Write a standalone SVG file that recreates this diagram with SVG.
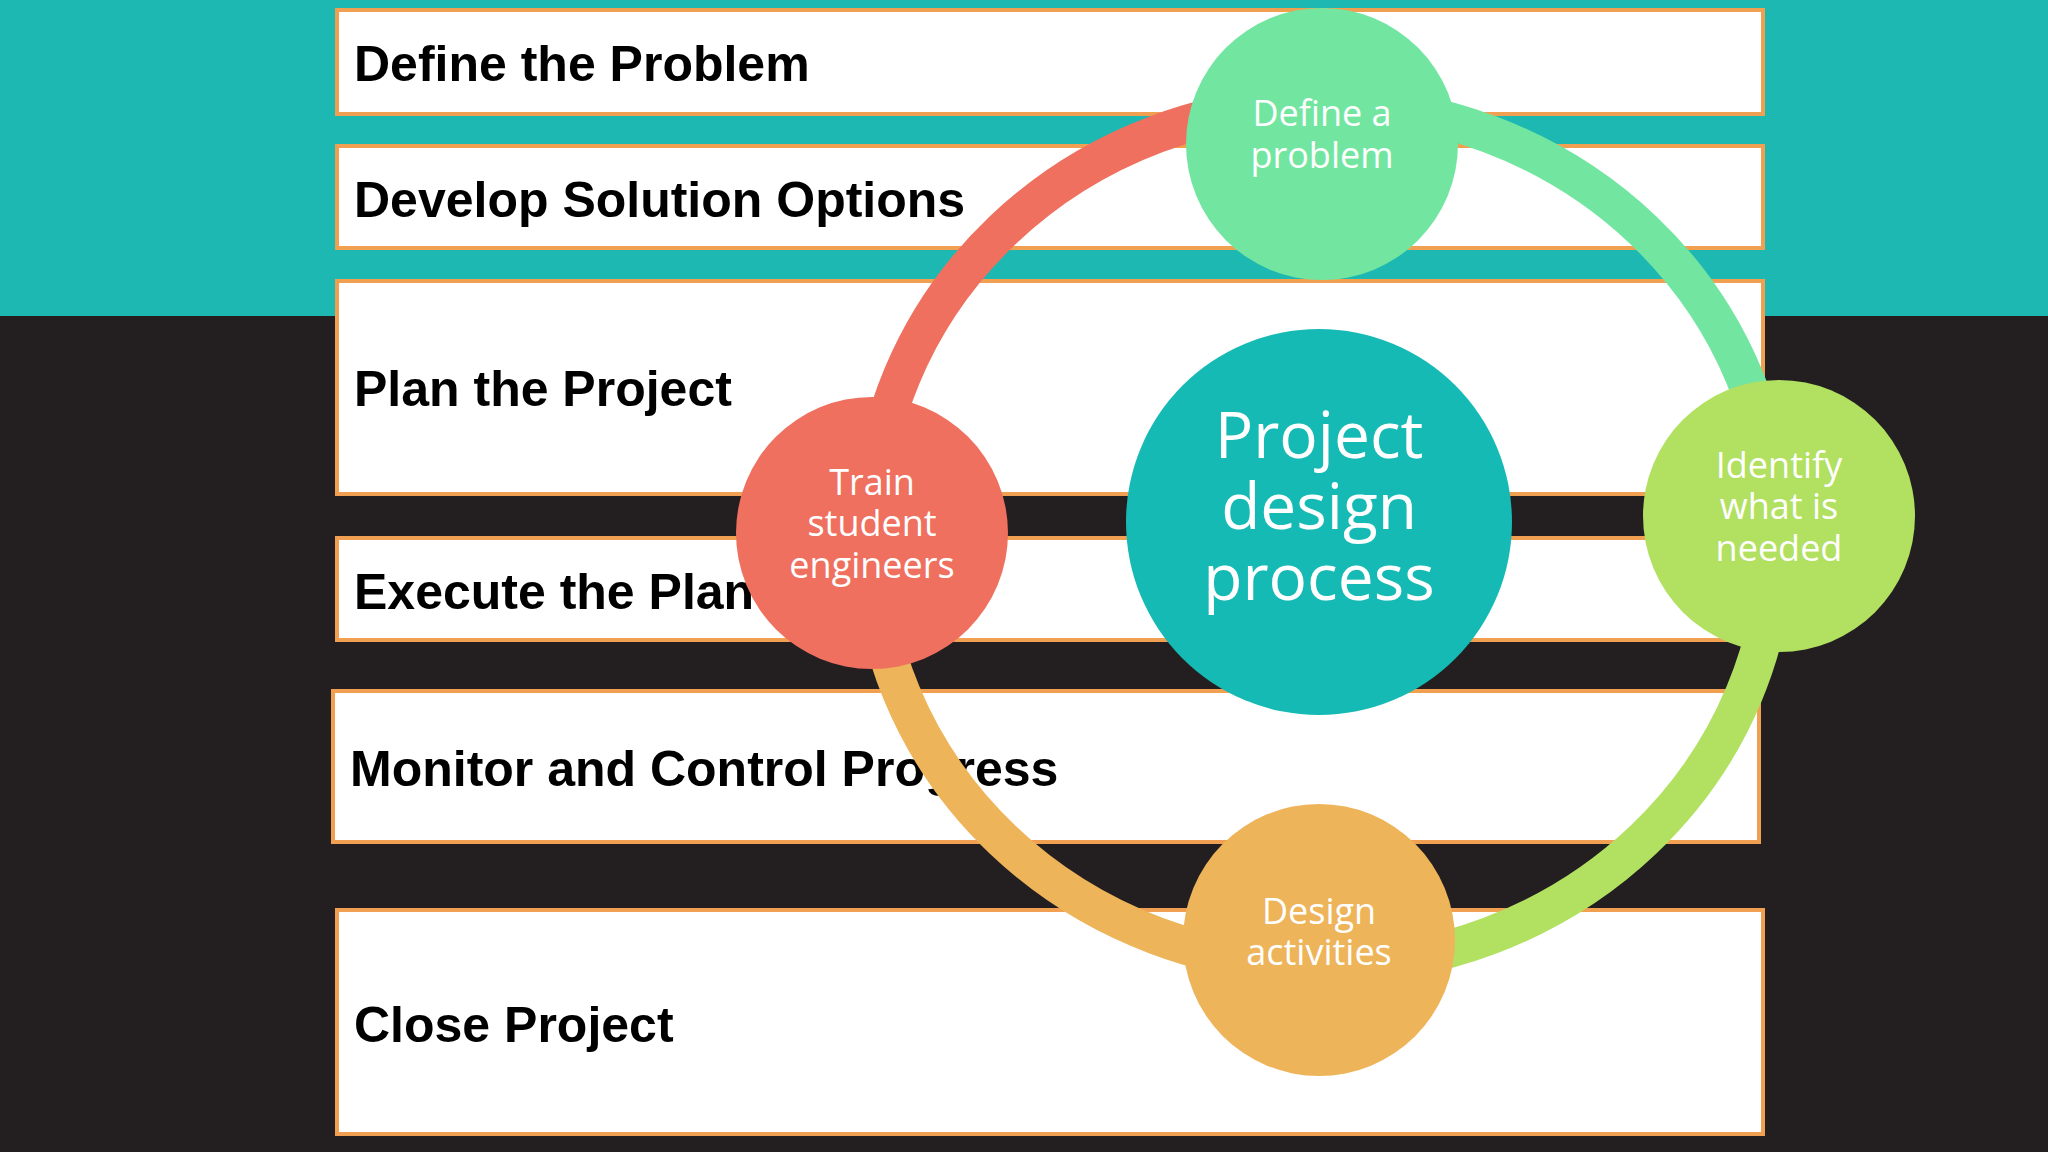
<svg xmlns="http://www.w3.org/2000/svg" width="2048" height="1152" viewBox="0 0 2048 1152">
<style>
.box{fill:#fff;stroke:#f0a050;stroke-width:4}
.lbl{font-family:"Liberation Sans",Arial,sans-serif;font-weight:bold;font-size:50px;fill:#000}
.ct{font-family:"Open Sans","Noto Sans",sans-serif;fill:#fff;text-anchor:middle;dominant-baseline:central;font-size:36px}
.big{font-size:64px}
.arc{fill:none;stroke-width:38}
</style>
<rect width="2048" height="1152" fill="#231f20"/>
<rect width="2048" height="316" fill="#1db8b2"/>
<g id="b1"><rect class="box" x="337" y="10" width="1426" height="104"/><text class="lbl" x="354" y="81">Define the Problem</text></g>
<g id="b2"><rect class="box" x="337" y="146" width="1426" height="102"/><text class="lbl" x="354" y="217">Develop Solution Options</text></g>
<g id="b3"><rect class="box" x="337" y="281" width="1426" height="213"/><text class="lbl" x="354" y="406">Plan the Project</text></g>
<g id="b4"><rect class="box" x="337" y="538" width="1426" height="102"/><text class="lbl" x="354" y="609">Execute the Plan</text></g>
<g id="b5"><rect class="box" x="333" y="691" width="1426" height="151"/><text class="lbl" x="350" y="786">Monitor and Control Progress</text></g>
<g id="b6"><rect class="box" x="337" y="910" width="1426" height="224"/><text class="lbl" x="354" y="1042">Close Project</text></g>
<g id="connectors">
<path class="arc" stroke="#ef705f" d="M870 535 A453 431 0 0 1 1323 104"/>
<path class="arc" stroke="#72e6a0" d="M1323 104 A453 431 0 0 1 1776 535"/>
<path class="arc" stroke="#b2e061" d="M1776 535 A453 431 0 0 1 1323 966"/>
<path class="arc" stroke="#eeb45a" d="M1323 966 A453 431 0 0 1 870 535"/>
</g>
<g id="center"><circle cx="1319" cy="522" r="193" fill="#16bab5"/>
<text class="ct big" x="1319" y="433">Project</text><text class="ct big" x="1319" y="504">design</text><text class="ct big" x="1319" y="575">process</text></g>
<g id="top"><circle cx="1322" cy="144" r="136" fill="#72e6a0"/><text class="ct" x="1322" y="112">Define a</text><text class="ct" x="1322" y="154">problem</text></g>
<g id="right"><circle cx="1779" cy="516" r="136" fill="#b2e061"/><text class="ct" x="1779" y="464">Identify</text><text class="ct" x="1779" y="505">what is</text><text class="ct" x="1779" y="547">needed</text></g>
<g id="bottom"><circle cx="1319" cy="940" r="136" fill="#eeb45a"/><text class="ct" x="1319" y="910">Design</text><text class="ct" x="1319" y="951">activities</text></g>
<g id="left"><circle cx="872" cy="533" r="136" fill="#ef705f"/><text class="ct" x="872" y="481">Train</text><text class="ct" x="872" y="522">student</text><text class="ct" x="872" y="564">engineers</text></g>
</svg>
